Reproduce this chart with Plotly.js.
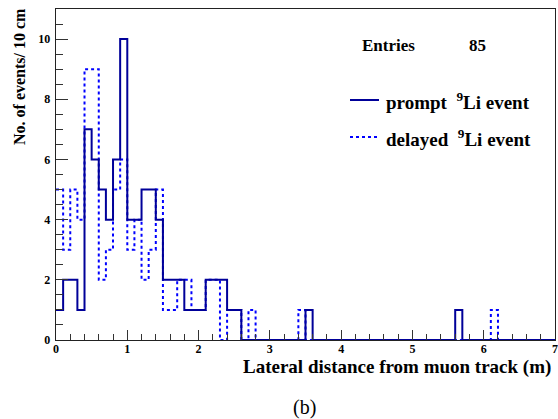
<!DOCTYPE html>
<html>
<head>
<meta charset="utf-8">
<script src="https://cdn.plot.ly/plotly-3.0.1.min.js"></script>
<style>
  html, body { margin: 0; padding: 0; background: #fff; }
  #chart { width: 558px; height: 419px; }
</style>
</head>
<body>
<div id="chart"></div>
<script>
// Bin width 0.1 m (10 cm), range 0 - 7 m -> 70 bins
const binWidth = 0.1;
const xMin = 0, xMax = 7;
// prompt 9Li event counts per bin
const promptCounts = [
  1, 2, 2, 1, 7, 6, 5, 4, 6, 10,
  4, 4, 5, 5, 4, 2, 2, 2, 1, 1,
  1, 2, 2, 2, 1, 1, 0, 0, 0, 0,
  0, 0, 0, 0, 0, 1, 0, 0, 0, 0,
  0, 0, 0, 0, 0, 0, 0, 0, 0, 0,
  0, 0, 0, 0, 0, 0, 1, 0, 0, 0,
  0, 0, 0, 0, 0, 0, 0, 0, 0, 0
];
// delayed 9Li event counts per bin
const delayedCounts = [
  5, 3, 5, 4, 9, 9, 2, 3, 5, 6,
  3, 4, 2, 3, 5, 1, 1, 2, 2, 1,
  1, 2, 2, 0, 1, 1, 0, 1, 0, 0,
  0, 0, 0, 0, 1, 0, 0, 0, 0, 0,
  0, 0, 0, 0, 0, 0, 0, 0, 0, 0,
  0, 0, 0, 0, 0, 0, 0, 0, 0, 0,
  0, 1, 0, 0, 0, 0, 0, 0, 0, 0
];
const entries = 85;
const xTickVals = [0, 1, 2, 3, 4, 5, 6, 7];
const yTickVals = [0, 2, 4, 6, 8, 10];

function stepXY(counts) {
  const xs = [], ys = [];
  for (let i = 0; i <= counts.length; i++) {
    xs.push(+(xMin + i * binWidth).toFixed(4));
    ys.push(i < counts.length ? counts[i] : counts[counts.length - 1]);
  }
  return {x: xs, y: ys};
}

const p = stepXY(promptCounts);
const d = stepXY(delayedCounts);

const FAM = 'Liberation Serif, Times New Roman, serif';
const f = (size, weight) => ({family: FAM, size: size, color: '#000', weight: weight || 'normal'});

const traces = [
  {x: d.x, y: d.y, type: 'scatter', mode: 'lines', name: 'delayed',
   line: {shape: 'hv', color: '#0000ff', width: 2, dash: 'dot'}, hoverinfo: 'skip'},
  {x: p.x, y: p.y, type: 'scatter', mode: 'lines', name: 'prompt',
   line: {shape: 'hv', color: '#000099', width: 2}, hoverinfo: 'skip'}
];

// plot area in pixels: left 56, right 555, top 9, bottom 340
const L = 56, R = 555, T = 9, B = 340, W = 558, H = 419;
const px = v => (v - L) / (R - L);
const py = v => (B - v) / (B - T);

const layout = {
  width: W, height: H,
  margin: {l: L, r: W - R, t: T, b: H - B},
  paper_bgcolor: '#fff', plot_bgcolor: '#fff',
  showlegend: false,
  xaxis: {
    range: [xMin, xMax], tickvals: xTickVals, ticktext: xTickVals.map(String),
    ticks: 'inside', ticklen: 10, tickwidth: 1, tickcolor: '#333',
    minor: {dtick: 0.2, ticks: 'inside', ticklen: 6, tickcolor: '#333', tickwidth: 1, showgrid: false},
    showgrid: false, zeroline: false, showline: true, linecolor: '#222', linewidth: 1.3, mirror: true,
    tickfont: f(12, 'bold'),
    ticklabelstandoff: -3
  },
  yaxis: {
    range: [0, 11], tickvals: yTickVals, ticktext: yTickVals.map(String),
    ticks: 'inside', ticklen: 12, tickwidth: 1, tickcolor: '#333',
    minor: {dtick: 0.5, ticks: 'inside', ticklen: 7, tickcolor: '#333', tickwidth: 1, showgrid: false},
    showgrid: false, zeroline: false, showline: true, linecolor: '#222', linewidth: 1.3, mirror: true,
    tickfont: f(12, 'bold'),
    ticklabelstandoff: 2
  },
  shapes: [
    {type: 'line', xref: 'paper', yref: 'paper', x0: px(350), x1: px(379), y0: py(100), y1: py(100),
     line: {color: '#000099', width: 2}},
    {type: 'line', xref: 'paper', yref: 'paper', x0: px(350), x1: px(379), y0: py(137), y1: py(137),
     line: {color: '#0000ff', width: 2, dash: 'dot'}}
  ],
  annotations: [
    {text: 'Entries', xref: 'paper', yref: 'paper', x: px(360), y: py(46), xanchor: 'left', yanchor: 'middle',
     showarrow: false, font: f(17, 'bold')},
    {text: String(entries), xref: 'paper', yref: 'paper', x: px(467), y: py(46), xanchor: 'left', yanchor: 'middle',
     showarrow: false, font: f(17, 'bold')},
    {text: 'prompt  <sup>9</sup>Li event', xref: 'paper', yref: 'paper', x: px(384), y: py(101), xanchor: 'left', yanchor: 'middle',
     showarrow: false, font: f(19, 'bold')},
    {text: 'delayed  <sup>9</sup>Li event', xref: 'paper', yref: 'paper', x: px(384), y: py(138), xanchor: 'left', yanchor: 'middle',
     showarrow: false, font: f(19, 'bold')},
    {text: 'Lateral distance from muon track (m)', xref: 'paper', yref: 'paper', x: px(553), y: py(367), xanchor: 'right', yanchor: 'middle',
     showarrow: false, font: f(19, 'bold')},
    {text: 'No. of events/ 10 cm', xref: 'paper', yref: 'paper', x: px(20), y: py(77), xanchor: 'center', yanchor: 'middle',
     textangle: -90, showarrow: false, font: f(16, 'bold')},
    {text: '(b)', xref: 'paper', yref: 'paper', x: px(304), y: py(407), xanchor: 'center', yanchor: 'middle',
     showarrow: false, font: f(20, 'normal')}
  ]
};

Plotly.newPlot('chart', traces, layout, {staticPlot: true, displayModeBar: false});
</script>
</body>
</html>
